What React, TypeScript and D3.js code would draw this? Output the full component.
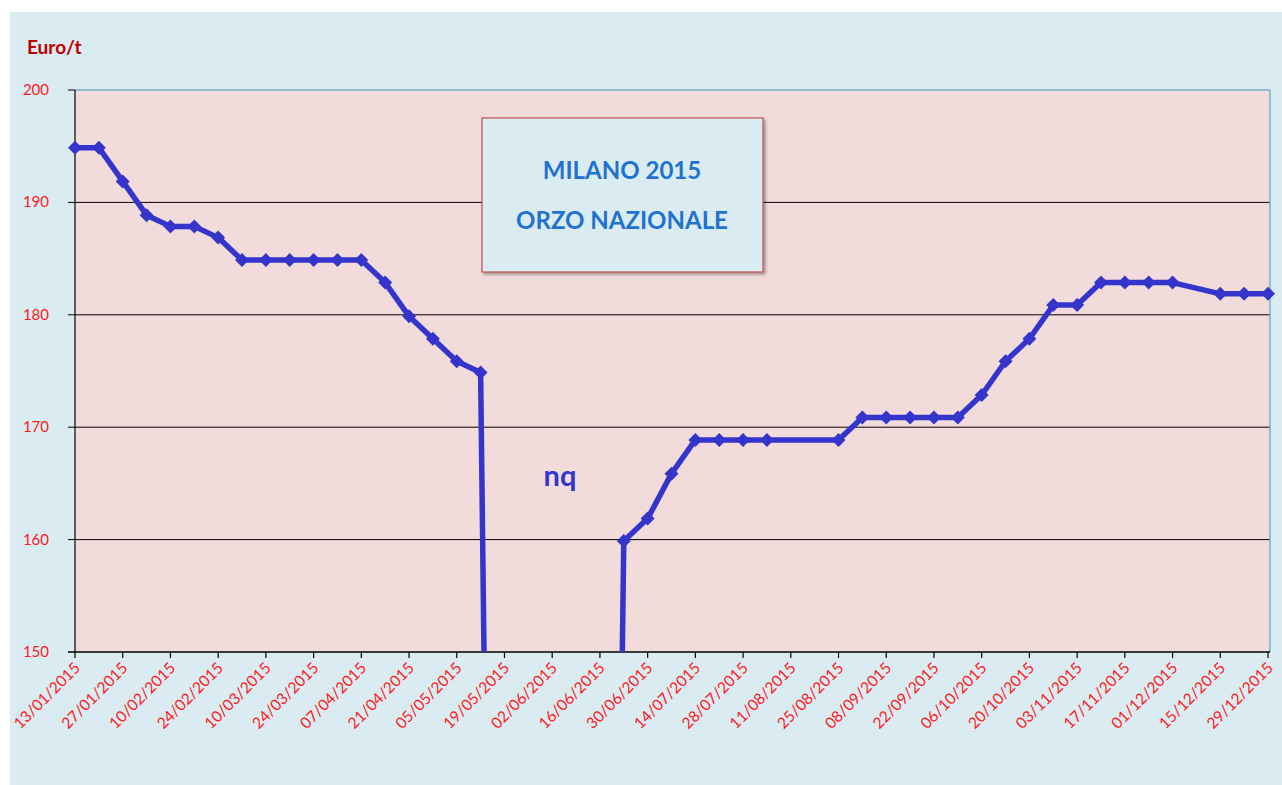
import React from "react";
import * as d3 from "d3";

const dates: string[] = [
  "13/01/2015","20/01/2015","27/01/2015","03/02/2015","10/02/2015","17/02/2015","24/02/2015",
  "03/03/2015","10/03/2015","17/03/2015","24/03/2015","31/03/2015","07/04/2015","14/04/2015",
  "21/04/2015","28/04/2015","05/05/2015","12/05/2015","19/05/2015","26/05/2015","02/06/2015",
  "09/06/2015","16/06/2015","23/06/2015","30/06/2015","07/07/2015","14/07/2015","21/07/2015",
  "28/07/2015","04/08/2015","25/08/2015","01/09/2015","08/09/2015","15/09/2015","22/09/2015",
  "29/09/2015","06/10/2015","13/10/2015","20/10/2015","27/10/2015","03/11/2015","10/11/2015",
  "17/11/2015","24/11/2015","01/12/2015","15/12/2015","22/12/2015","29/12/2015",
];
const prices: number[] = [
  195,195,192,189,188,188,187,
  185,185,185,185,185,185,183,
  180,178,176,175,0,0,0,
  0,0,160,162,166,169,169,
  169,169,169,171,171,171,171,
  171,173,176,178,181,181,183,
  183,183,183,182,182,182,
];
const tickLabels: string[] = [
  "13/01/2015","27/01/2015","10/02/2015","24/02/2015","10/03/2015","24/03/2015","07/04/2015",
  "21/04/2015","05/05/2015","19/05/2015","02/06/2015","16/06/2015","30/06/2015","14/07/2015",
  "28/07/2015","11/08/2015","25/08/2015","08/09/2015","22/09/2015","06/10/2015","20/10/2015",
  "03/11/2015","17/11/2015","01/12/2015","15/12/2015","29/12/2015",
];
const yTicks: number[] = [150, 160, 170, 180, 190, 200];
const titleLines: string[] = ["MILANO 2015", "ORZO NAZIONALE"];
const unitLabel = "Euro/t";
const gapLabel = "nq";

const parse = d3.timeParse("%d/%m/%Y");

export default function App() {
  const W = 1282, H = 785;
  const left = 75, right = 1268, top = 90, bottom = 652;
  const plotRight = 1270;
  const x = d3.scaleTime()
    .domain([parse(dates[0])!, parse(dates[dates.length - 1])!])
    .range([left, right]);
  const y = d3.scaleLinear().domain([150, 200]).range([bottom, top]);
  const pts = dates.map((d, i) => ({ x: x(parse(d)!), y: y(prices[i]) + 1.5 }));
  const line = d3.line<{ x: number; y: number }>().x(p => p.x).y(p => p.y);
  const font = "Lato, 'Open Sans', sans-serif";
  const red = "#ff1a1a";
  const r = 7;
  const diamond = (cx: number, cy: number) =>
    `M${cx},${cy - r}L${cx + r},${cy}L${cx},${cy + r}L${cx - r},${cy}Z`;

  return (
    <svg width={W} height={H} style={{ position: "absolute", left: 0, top: 0 }}>
      <defs>
        <clipPath id="plotclip">
          <rect x={left - 8} y={top} width={plotRight - left + 16} height={bottom - top} />
        </clipPath>
        <filter id="shadow" x="-10%" y="-10%" width="130%" height="130%">
          <feDropShadow dx="2" dy="2" stdDeviation="1.5" floodColor="#000" floodOpacity="0.35" />
        </filter>
      </defs>
      <rect x={0} y={0} width={W} height={H} fill="#ffffff" />
      <rect x={10} y={12} width={W - 10} height={H - 12} fill="#daecf2" />
      <rect x={left} y={top} width={plotRight - left} height={bottom - top} fill="#f2dcdb" />
      {/* gridlines */}
      {yTicks.filter(t => t !== 150 && t !== 200).map(t => (
        <line key={t} x1={left - 7} x2={plotRight} y1={y(t)} y2={y(t)} stroke="#000" strokeWidth={1} />
      ))}
      {/* top and right border */}
      <line x1={left} x2={plotRight} y1={top} y2={top} stroke="#6fb3c9" strokeWidth={1.5} />
      <line x1={plotRight} x2={plotRight} y1={top} y2={bottom} stroke="#6fb3c9" strokeWidth={1.5} />
      <line x1={left - 7} x2={left} y1={top} y2={top} stroke="#000" strokeWidth={1} />
      {/* axes */}
      <line x1={left} x2={left} y1={top} y2={bottom} stroke="#000" strokeWidth={1.2} />
      <line x1={left - 7} x2={plotRight} y1={bottom} y2={bottom} stroke="#000" strokeWidth={1.5} />
      {tickLabels.map(t => {
        const tx = x(parse(t)!);
        return (
          <g key={t}>
            <line x1={tx} x2={tx} y1={bottom} y2={bottom + 6} stroke="#000" strokeWidth={1.2} />
            <text
              transform={`translate(${tx + 6},${bottom + 17}) rotate(-45)`}
              textAnchor="end"
              fontFamily={font}
              fontSize={15.5}
              fill={red}
            >
              {t}
            </text>
          </g>
        );
      })}
      {yTicks.map(t => (
        <text key={t} x={49} y={y(t) + 5} textAnchor="end" fontFamily={font} fontSize={15} fill={red}>
          {t}
        </text>
      ))}
      <text x={27} y={54} fontFamily={font} fontSize={19} fontWeight="bold" fill="#c00000">
        {unitLabel}
      </text>
      {/* series */}
      <g clipPath="url(#plotclip)">
        <path d={line(pts) || ""} fill="none" stroke="#3535cc" strokeWidth={5.5} strokeLinejoin="round" />
        {pts.map((p, i) => (
          <path key={i} d={diamond(p.x, p.y)} fill="#3535cc" />
        ))}
      </g>
      {/* title box */}
      <rect x={482} y={118} width={281} height={154} fill="#daecf2" stroke="#c0504d" strokeWidth={1.2} filter="url(#shadow)" />
      {titleLines.map((t, i) => (
        <text key={t} x={622} y={179 + i * 50} textAnchor="middle" fontFamily={font} fontSize={24} fontWeight="bold" fill="#1f72d0">
          {t}
        </text>
      ))}
      <text x={560} y={486} textAnchor="middle" fontFamily={font} fontSize={29} fontWeight="bold" fill="#3535cc">
        {gapLabel}
      </text>
    </svg>
  );
}
